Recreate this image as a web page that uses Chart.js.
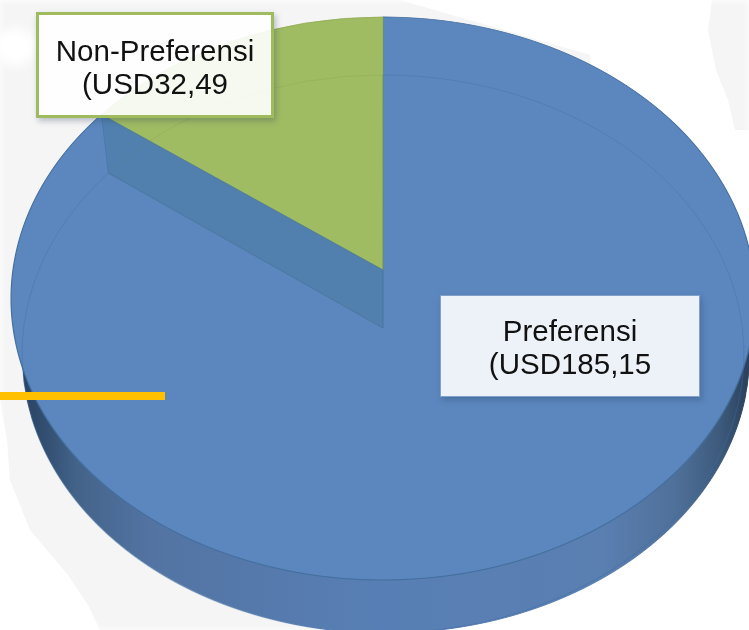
<!DOCTYPE html>
<html>
<head>
<meta charset="utf-8">
<script src="https://cdn.jsdelivr.net/npm/chart.js@4"></script>
<style>
html,body{margin:0;padding:0;background:#fff;}
#wrap{position:relative;width:749px;height:630px;overflow:hidden;}
.map{position:absolute;inset:0;background:#f5f5f5;filter:blur(3px);}
#mapLeft{clip-path:polygon(0 0,400px 0,590px 55px,600px 300px,400px 630px,100px 630px,88px 605px,68px 575px,30px 530px,10px 480px,7px 440px,0 400px);}
#mapRight{clip-path:polygon(712px 0,749px 0,749px 130px,735px 130px,728px 100px,716px 70px,708px 30px);}
#gap{position:absolute;left:-6px;top:28px;width:42px;height:38px;background:#fff;border-radius:50%;filter:blur(6px);}
canvas{position:absolute;left:0;top:0;}
.box{position:absolute;box-sizing:border-box;text-align:center;color:#111;
  font-family:"Liberation Sans",Arial,sans-serif;font-size:29.5px;line-height:33px;
  box-shadow:2px 3px 6px rgba(40,60,90,.3);}
#lblNon{left:36px;top:12px;width:238px;height:106px;padding-top:19px;
  border:3px solid #9fbb5e;background:rgba(255,255,255,.9);}
#lblPref{left:440px;top:295px;width:260px;height:102px;padding-top:18px;
  border:1px solid #7fa0cb;background:rgba(255,255,255,.89);}
#bar{position:absolute;left:0;top:392px;width:165px;height:8px;background:#ffc000;}
</style>
</head>
<body>
<div id="wrap">
  <div class="map" id="mapLeft"></div>
  <div class="map" id="mapRight"></div>
  <div id="gap"></div>
  <canvas id="chart" width="749" height="630"></canvas>
  <div id="bar"></div>
  <div class="box" id="lblNon">Non-Preferensi<br>(USD32,49</div>
  <div class="box" id="lblPref">Preferensi<br>(USD185,15</div>
</div>
<script>
// ===================== Data =====================
const categories = ["Preferensi","Non-Preferensi"];
const values = [185.15,32.49];
const colors = ["#5b87be","#a0bc63"];
const edges = ["#44709f","#8fab55"];

// ===================== Perspective of the faces =====================
const topFace = {x:383,c:270,a:370,b:251.3,k:-0.1012};
const bottomFace = {x:383,c:328,a:359.4,b:246,k:-0.0932};
const sideFace = {x:386,c:328,a:362,b:246,k:-0.0932};

function project(P,nx,ny){
    const w = 1+P.k*ny;
    return [P.x+P.a*nx/w,(P.b*ny+P.c)/w];
}

// draws row by row, every row with the local scale of the perspective
function warped(chart,P,paint){
    const ctx = chart.ctx, arc = chart.getDatasetMeta(0).data[0];
    const R = arc.outerRadius, cx = arc.x, cy = arc.y;
    for(let Y=0;Y<chart.height;Y++){
        const mid = Y+0.5;
        const ny = (mid-P.c)/(P.b-P.k*mid);
        if(Math.abs(ny)>1.03) continue;
        const w = 1+P.k*ny;
        const s = P.a/w/R, t = (P.b-P.k*P.c)/(w*w)/R;
        ctx.save();
        ctx.beginPath();
        ctx.rect(0,Y,chart.width,1);
        ctx.clip();
        ctx.setTransform(s,0,0,t,P.x-s*cx,mid-t*(cy+ny*R));
        paint(ctx);
        ctx.restore();
    }
}

function drawArc(el,ctx,fill,stroke,width){
    const old = el.options;
    el.options = {backgroundColor:fill,borderColor:stroke,borderWidth:width,borderAlign:"center",
        borderJoinStyle:"round",borderDash:[],borderDashOffset:0,offset:0,spacing:0,borderRadius:0,circular:true};
    el.draw(ctx);
    el.options = old;
}

const pie3d = {
    id:"pie3d",
    beforeDatasetsDraw(chart){
        const ctx = chart.ctx, arcs = chart.getDatasetMeta(0).data;

        // side of the pie
        const side = ctx.createLinearGradient(10,0,750,0);
        side.addColorStop(0,"#27405d");
        side.addColorStop(0.04,"#2f4b6d");
        side.addColorStop(0.09,"#436389");
        side.addColorStop(0.19,"#5374a3");
        side.addColorStop(0.5,"#587fb5");
        side.addColorStop(0.8,"#5a7fb1");
        side.addColorStop(0.9,"#4f7099");
        side.addColorStop(0.96,"#3d5a7c");
        side.addColorStop(1,"#293f5a");
        warped(chart,sideFace,c=>drawArc(arcs[0],c,"#5578ab","#3f6698",1));
        ctx.save();
        ctx.globalCompositeOperation = "source-atop";
        ctx.fillStyle = side;
        ctx.fillRect(0,0,chart.width,chart.height);
        ctx.restore();

        // top face
        warped(chart,topFace,c=>{
            drawArc(arcs[0],c,colors[0],edges[0],1.2);
            drawArc(arcs[1],c,colors[1],edges[1],1);
        });

        // bottom face seen through the top
        warped(chart,bottomFace,c=>{
            drawArc(arcs[0],c,"rgba(0,0,0,0)","rgba(62,108,165,.45)",1);
            drawArc(arcs[1],c,"rgba(0,0,0,0)","rgba(125,160,80,.35)",1);
        });

        // inner wall under the edge of the small slice
        const ang = arcs[1].startAngle+Math.PI/2;
        const nx = Math.sin(ang), ny = -Math.cos(ang);
        const a = project(topFace,nx,ny), b = project(topFace,0,0);
        const c = project(bottomFace,0,0), d = project(bottomFace,nx,ny);
        ctx.save();
        ctx.beginPath();
        ctx.moveTo(a[0],a[1]);
        ctx.lineTo(b[0],b[1]);
        ctx.lineTo(c[0],c[1]);
        ctx.lineTo(d[0],d[1]);
        ctx.closePath();
        ctx.fillStyle = "rgba(72,122,160,.55)";
        ctx.fill();
        ctx.strokeStyle = "rgba(70,115,175,.7)";
        ctx.lineWidth = 1;
        ctx.stroke();
        ctx.restore();
        return false;
    }
};

new Chart(document.getElementById("chart"),{
    type:"pie",
    data:{
        labels:categories,
        datasets:[{data:values,backgroundColor:colors,borderColor:edges}]
    },
    options:{
        responsive:false,
        animation:false,
        radius:370,
        plugins:{legend:{display:false},tooltip:{enabled:false}}
    },
    plugins:[pie3d]
});
</script>
</body>
</html>
